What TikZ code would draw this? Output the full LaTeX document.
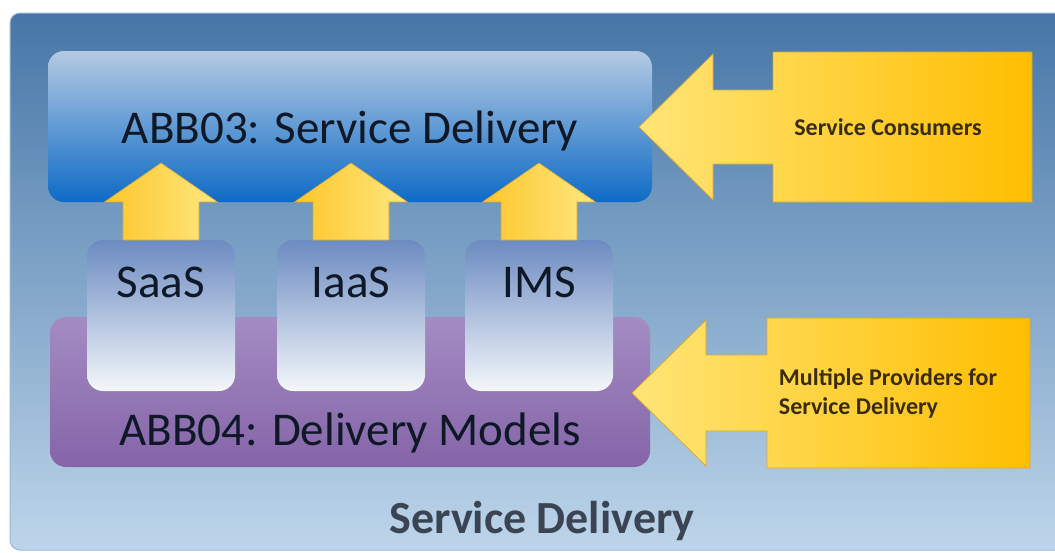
\documentclass[tikz,border=0pt]{standalone}
\usepackage{fontspec}
\setmainfont{Carlito}
\definecolor{bgtop}{HTML}{4676A7}
\definecolor{bgbot}{HTML}{BDD5EA}
\definecolor{bgedge}{HTML}{9DB7D2}
\definecolor{abbtop}{HTML}{B4CAE3}
\definecolor{abbmid}{HTML}{5896D3}
\definecolor{abbbot}{HTML}{0E6BC6}
\definecolor{purtop}{HTML}{A48CC3}
\definecolor{purbot}{HTML}{8564A8}
\definecolor{mdltop}{HTML}{6C8BC1}
\definecolor{mdlbot}{HTML}{F4F7FB}
\definecolor{goldL}{HTML}{FCC62A}
\definecolor{goldR}{HTML}{FFE780}
\definecolor{ylwL}{HTML}{FFE577}
\definecolor{ylwM}{HTML}{FFC91C}
\definecolor{ylwR}{HTML}{FFBE00}
\definecolor{ylwedge}{HTML}{D6A83A}
\definecolor{txtdark}{HTML}{0E1826}
\definecolor{txtbrown}{HTML}{3A2C0E}
\definecolor{txtslate}{HTML}{3A4452}
\tikzset{
  panel/.style={rounded corners=16pt, inner sep=0pt, draw=none},
  upshape/.style={left color=goldL, right color=goldR, draw=ylwedge, line width=0.6pt},
  sideshape/.style={left color=ylwL, middle color=ylwM, right color=ylwR, draw=ylwedge, line width=0.8pt},
  bigtext/.style={font=\fontsize{47}{56}\selectfont, text=txtdark, anchor=base},
  calltext/.style={font=\bfseries\fontsize{24}{29}\selectfont, text=txtbrown, align=left}
}
\begin{document}
\begin{tikzpicture}[x=1pt,y=-1pt]
\useasboundingbox (0,0) rectangle (1055,552);
\clip (0,0) rectangle (1055,552);
\fill[white] (0,0) rectangle (1055,552);

% outer frame
\path[top color=bgtop, bottom color=bgbot, draw=bgedge, line width=1pt, rounded corners=10pt]
  (10,13) rectangle (1075,550);

% ABB03 panel
\node[panel, top color=abbtop, middle color=abbmid, bottom color=abbbot,
      minimum width=604pt, minimum height=151pt] (abb03) at (350,126.5) {};

% ABB04 panel
\node[panel, top color=purtop, bottom color=purbot,
      minimum width=600pt, minimum height=150pt] (abb04) at (350,392) {};

% delivery model boxes with their upward arrows
\foreach \c/\n in {161/saas, 351/iaas, 539/ims}{
  \node[panel, top color=mdltop, bottom color=mdlbot,
        minimum width=148pt, minimum height=151pt] (\n) at (\c,315.5) {};
  \path[upshape] (\c-38,240) -- (\c-38,202) -- (\c-56.5,202) -- (\c,163)
     -- (\c+56.5,202) -- (\c+38,202) -- (\c+38,240) -- cycle;
}

% callout arrows
\path[sideshape] (639,127) -- (713,54) -- (713,90) -- (773,90) -- (773,52)
  -- (1032,52) -- (1032,202) -- (773,202) -- (773,164) -- (713,164) -- (713,200) -- cycle;
\path[sideshape] (632,393) -- (706,320) -- (706,355) -- (767,355) -- (767,318)
  -- (1030,318) -- (1030,468) -- (767,468) -- (767,431) -- (706,431) -- (706,466) -- cycle;

% labels
\node[bigtext] (t03) at (350,143) {ABB03: Service Delivery};
\node[bigtext] (tsaas) at (161,297) {SaaS};
\node[bigtext] (tiaas) at (351,297) {IaaS};
\node[bigtext] (tims) at (539,297) {IMS};
\node[bigtext] (t04) at (350,445) {ABB04: Delivery Models};
\node[calltext] (tcons) at (888,127) {Service Consumers};
\node[calltext] (tprov) at (888,393) {Multiple Providers for\\Service Delivery};
\node[font=\bfseries\fontsize{46}{55}\selectfont, text=txtslate, anchor=base] (tall) at (542,533) {Service Delivery};
\end{tikzpicture}
\end{document}
